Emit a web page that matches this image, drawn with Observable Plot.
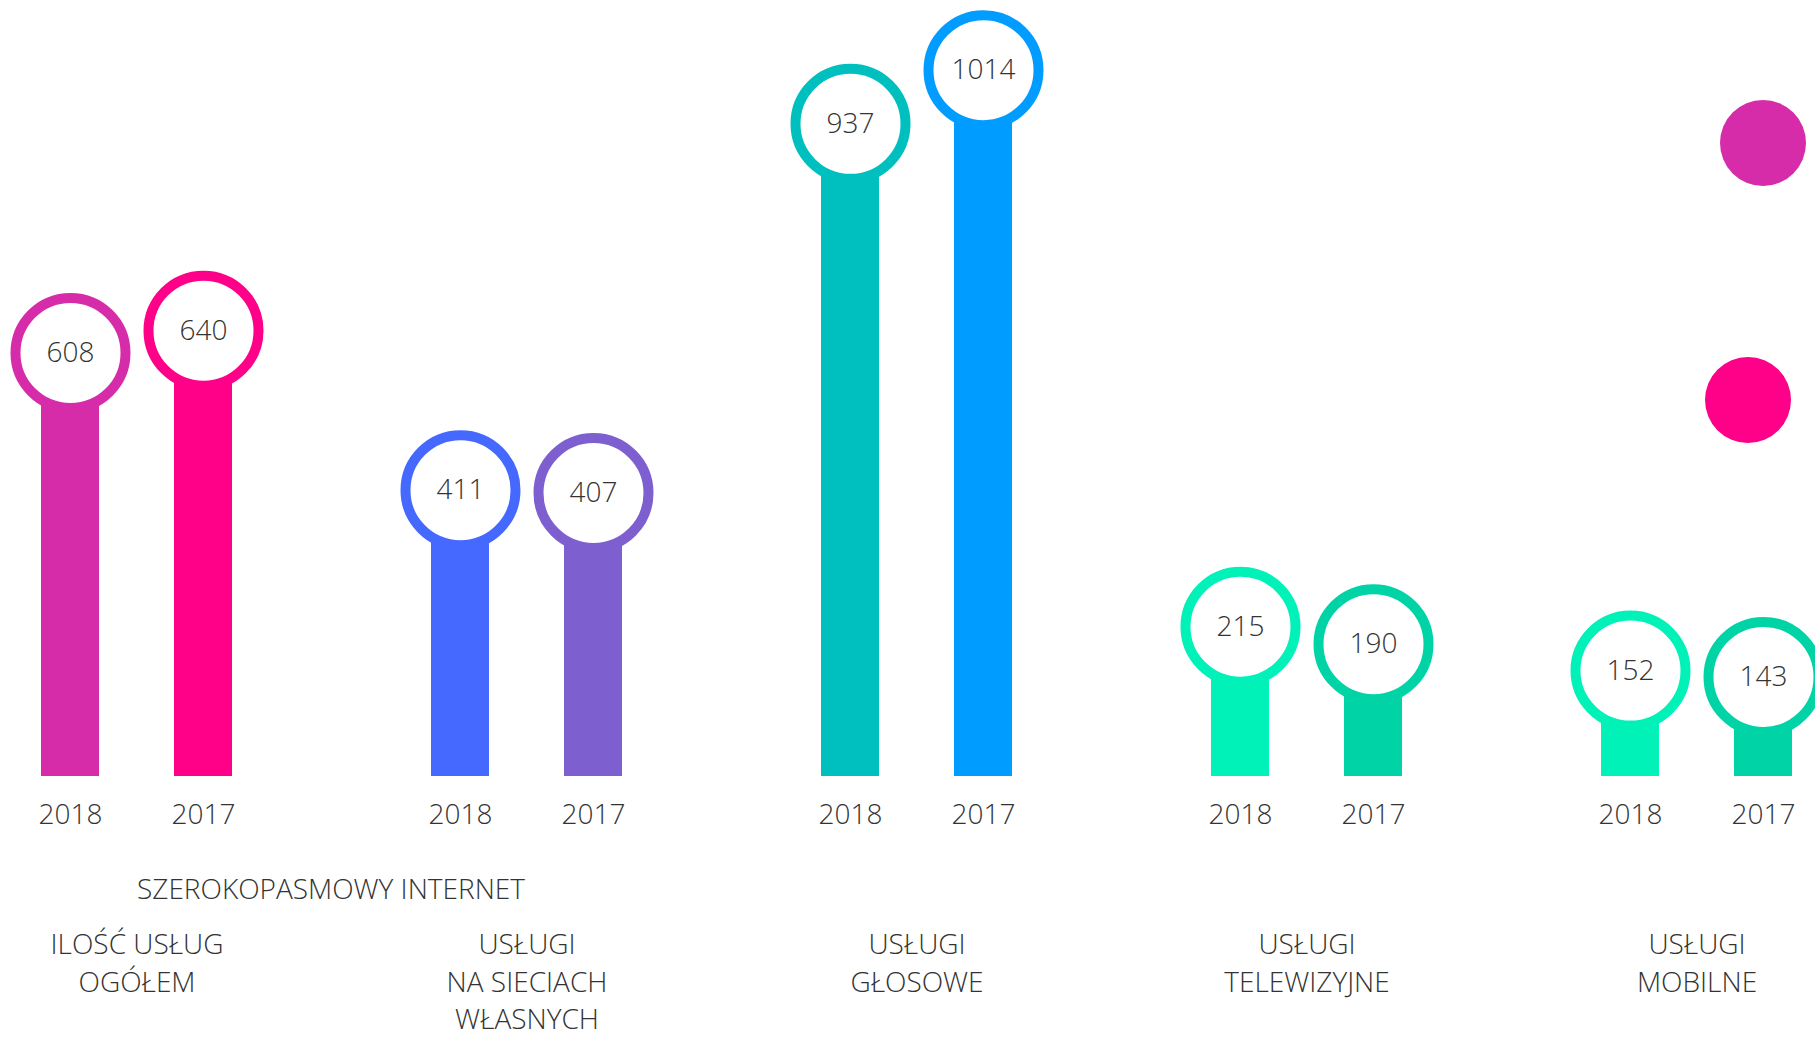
<!DOCTYPE html>
<html>
<head>
<meta charset="utf-8">
<script src="https://cdn.jsdelivr.net/npm/d3@7"></script>
<script src="https://cdn.jsdelivr.net/npm/@observablehq/plot@0.6"></script>
<style>
  body { margin: 0; background: #fff; }
  #chart { position: relative; width: 1815px; height: 1039px; overflow: hidden; font-family: "Open Sans", sans-serif; }
  .legend-dot { position: absolute; width: 86px; height: 86px; border-radius: 50%; }
</style>
</head>
<body>
<div id="chart"></div>
<script>
// ---- data ----
const groups = [
  "ILOŚĆ USŁUG\nOGÓŁEM",
  "USŁUGI\nNA SIECIACH\nWŁASNYCH",
  "USŁUGI\nGŁOSOWE",
  "USŁUGI\nTELEWIZYJNE",
  "USŁUGI\nMOBILNE"
];
const years = ["2018", "2017"];
const values2018 = [608, 411, 937, 215, 152];
const values2017 = [640, 407, 1014, 190, 143];
const colors2018 = ["#d62ca9", "#4569ff", "#00bfbf", "#00f2b9", "#00f2b9"];
const colors2017 = ["#ff0088", "#7e5fd0", "#009cff", "#00d4a7", "#00d4a7"];
const superLabel = "SZEROKOPASMOWY INTERNET";
const legendYears = ["2018", "2017"];
const legendColors = [colors2018[0], colors2017[0]];

// ---- table ----
const rows = groups.flatMap((g, i) => [
  {group: g, year: years[0], value: values2018[i], color: colors2018[i]},
  {group: g, year: years[1], value: values2017[i], color: colors2017[i]}
]);
const groupRows = groups.map(g => ({group: g, label: g}));
const superRows = [{group: groups[0], label: superLabel}];

const font = '"Open Sans", sans-serif';
const textColor = "#333333";

const chart = Plot.plot({
  width: 1815,
  height: 1039,
  marginTop: 0,
  marginBottom: 263,
  marginLeft: 40,
  marginRight: 22,
  style: {fontFamily: font, background: "transparent"},
  fx: {domain: groups, axis: null, paddingInner: 0.511, paddingOuter: 0},
  x: {domain: years, axis: null, paddingInner: 0.564, paddingOuter: 0},
  y: {domain: [0, 1114], axis: null},
  color: {type: "identity"},
  marks: [
    Plot.barY(rows, {fx: "group", x: "year", y: "value", fill: "color"}),
    Plot.dot(rows, {fx: "group", x: "year", y: "value", r: 55, fill: "white", stroke: "color", strokeWidth: 10}),
    Plot.text(rows, {fx: "group", x: "year", y: "value", text: d => String(d.value), fontSize: 28, fontWeight: 300, fill: textColor}),
    Plot.text(rows, {fx: "group", x: "year", frameAnchor: "bottom", dy: 47, text: "year", fontSize: 28, fontWeight: 300, fill: textColor}),
    Plot.text(groupRows, {fx: "group", frameAnchor: "bottom", lineAnchor: "top", dy: 151, lineHeight: 1.34, text: "label", fontSize: 28, fontWeight: 300, fill: textColor}),
    Plot.text(superRows, {fx: "group", frameAnchor: "bottom", dy: 122, dx: 194, text: "label", fontSize: 28, fontWeight: 300, fill: textColor})
  ]
});

const container = document.getElementById("chart");
container.appendChild(chart);

// legend bullets (their labels lie outside the visible area)
const legendPos = [{left: 1720, top: 100}, {left: 1705, top: 357}];
legendYears.forEach((y, i) => {
  const d = document.createElement("div");
  d.className = "legend-dot";
  d.title = y;
  d.style.background = legendColors[i];
  d.style.left = legendPos[i].left + "px";
  d.style.top = legendPos[i].top + "px";
  container.appendChild(d);
});
</script>
</body>
</html>
